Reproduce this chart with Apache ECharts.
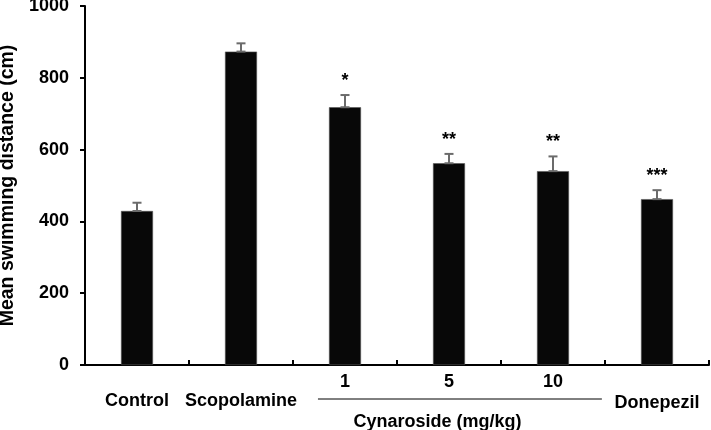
<!DOCTYPE html>
<html>
<head>
<meta charset="utf-8">
<script src="https://cdn.jsdelivr.net/npm/echarts@6/dist/echarts.min.js"></script>
<style>
html,body{margin:0;padding:0;background:#fff;}
#chart{width:711px;height:430px;}
</style>
</head>
<body>
<div id="chart"></div>
<script>
var categories = ['Control', 'Scopolamine', '1', '5', '10', 'Donepezil'];
var means = [429, 873, 718, 562, 540, 462];
var errors = [23, 23, 34, 26, 41, 25];
var significance = ['', '', '*', '**', '**', '***'];
var groupLabel = 'Cynaroside (mg/kg)';
var yTitle = 'Mean swimming distance (cm)';
var yMin = 0, yMax = 1000, yStep = 200;

var FONT = '"Liberation Sans", Arial, sans-serif';
var FS = 18;
var chart = echarts.init(document.getElementById('chart'));

var lowLabels = {'Control': 'lo', 'Scopolamine': 'lo', 'Donepezil': 'dn'};

var option = {
  animation: false,
  backgroundColor: '#fff',
  grid: {left: 85, right: 2, top: 6, bottom: 65, containLabel: false, outerBoundsMode: 'none'},
  xAxis: {
    type: 'category',
    data: categories,
    axisLine: {lineStyle: {color: '#000', width: 2}},
    axisTick: {show: true, inside: true, length: 5, lineStyle: {color: '#000', width: 2}},
    axisLabel: {
      interval: 0,
      margin: 8,
      fontFamily: FONT,
      fontWeight: 'bold',
      fontSize: FS,
      color: '#000',
      verticalAlign: 'top',
      formatter: function (v) {
        var k = lowLabels[v] || 'hi';
        return '{' + k + '|' + v + '}';
      },
      rich: {
        hi: {lineHeight: 19, fontFamily: FONT, fontWeight: 'bold', fontSize: FS, color: '#000'},
        lo: {lineHeight: 56, fontFamily: FONT, fontWeight: 'bold', fontSize: FS, color: '#000'},
        dn: {lineHeight: 60, fontFamily: FONT, fontWeight: 'bold', fontSize: FS, color: '#000'}
      }
    },
    splitLine: {show: false}
  },
  yAxis: {
    type: 'value',
    min: yMin, max: yMax, interval: yStep,
    name: yTitle,
    nameLocation: 'middle',
    nameGap: 62,
    nameTextStyle: {fontFamily: FONT, fontWeight: 'bold', fontSize: 19.5, color: '#000'},
    axisLine: {show: true, lineStyle: {color: '#000', width: 2}},
    axisTick: {show: true, length: 5, lineStyle: {color: '#000', width: 2}},
    axisLabel: {
      margin: 16, fontFamily: FONT, fontWeight: 'bold', fontSize: FS, color: '#000',
      formatter: function (v) { return String(v); }
    },
    splitLine: {show: false}
  },
  series: [
    {
      type: 'bar',
      data: means,
      barWidth: 32,
      itemStyle: {color: '#080808', borderColor: '#555', borderWidth: 0.6},
      z: 2
    },
    {
      type: 'custom',
      data: categories.map(function (c, i) { return [i, means[i], errors[i]]; }),
      z: 3,
      renderItem: function (params, api) {
        var i = api.value(0);
        var m = api.value(1);
        var e = api.value(2);
        var p0 = api.coord([i, m]);
        var p1 = api.coord([i, m + e]);
        var hw = 4.5;
        var stroke = {stroke: '#6b6b6b', lineWidth: 2};
        var children = [
          {type: 'line', shape: {x1: p0[0], y1: p0[1], x2: p1[0], y2: p1[1]}, style: stroke},
          {type: 'line', shape: {x1: p1[0] - hw, y1: p1[1], x2: p1[0] + hw, y2: p1[1]}, style: stroke},
          {type: 'line', shape: {x1: p0[0] - hw, y1: p0[1], x2: p0[0] + hw, y2: p0[1]}, style: stroke}
        ];
        if (significance[params.dataIndex]) {
          children.push({
            type: 'text',
            style: {
              text: significance[params.dataIndex],
              x: p1[0], y: p1[1] - 5,
              align: 'center', verticalAlign: 'bottom',
              fontFamily: FONT, fontWeight: 'bold', fontSize: FS, fill: '#000'
            }
          });
        }
        return {type: 'group', children: children};
      }
    }
  ]
};
chart.setOption(option);

// group bracket line and group label under the Cynaroside doses
var c2 = chart.convertToPixel({xAxisIndex: 0}, '1');
var c3 = chart.convertToPixel({xAxisIndex: 0}, '5');
var c4 = chart.convertToPixel({xAxisIndex: 0}, '10');
var band = c3 - c2;
var y0 = chart.convertToPixel({yAxisIndex: 0}, 0);
chart.setOption({
  graphic: [
    {
      type: 'line',
      shape: {x1: c2 - 0.26 * band, y1: y0 + 34, x2: c4 + 0.47 * band, y2: y0 + 34},
      style: {stroke: '#000', lineWidth: 1}
    },
    {
      type: 'text',
      style: {
        text: groupLabel,
        x: c3 - 0.11 * band, y: y0 + 57,
        align: 'center', verticalAlign: 'middle',
        fontFamily: FONT, fontWeight: 'bold', fontSize: FS, fill: '#000'
      }
    }
  ]
});
</script>
</body>
</html>
